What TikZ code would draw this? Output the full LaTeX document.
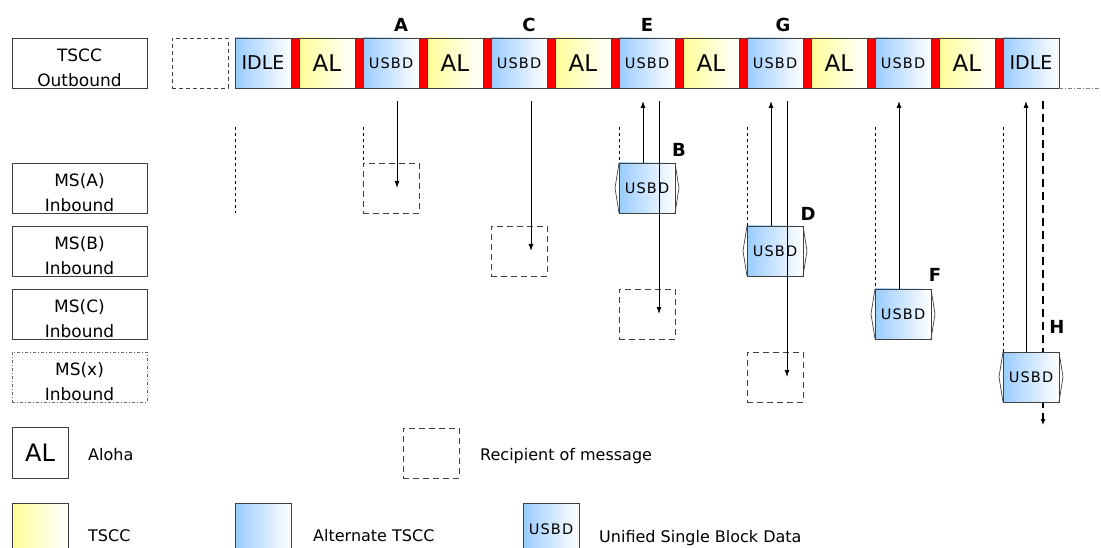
\documentclass[tikz,border=0pt]{standalone}
\usepackage{fontspec}
\setmainfont{DejaVu Sans}
\newfontfamily\spacedfont[LetterSpace=8]{DejaVu Sans}
\usetikzlibrary{arrows.meta}
\definecolor{altblue}{RGB}{153,204,255}
\definecolor{tsccyel}{RGB}{255,255,153}
\definecolor{edge}{RGB}{64,64,64}
\definecolor{sepred}{RGB}{255,0,0}
\begin{document}
\begin{tikzpicture}[x=1pt,y=-1pt,
  fs/.style={font=\fontsize{#1}{#1}\selectfont},
  us/.style={font=\spacedfont\fontsize{14.5}{14.5}\selectfont},
  slot/.style={draw=edge, line width=0.8pt, minimum width=56pt, minimum height=50pt,
    inner sep=0pt, outer sep=0pt, anchor=north west},
  bslot/.style={slot, left color=altblue, right color=white},
  yslot/.style={slot, left color=tsccyel, right color=white},
  sepbar/.style={draw=edge, line width=0.6pt, fill=sepred, minimum width=8pt,
    minimum height=50pt, inner sep=0pt, outer sep=0pt, anchor=north west},
  lbox/.style={draw=edge, line width=0.8pt, minimum width=135pt, minimum height=50pt,
    inner sep=0pt, outer sep=0pt, anchor=north west},
  boxtxt/.style={align=center, font=\fontsize{17}{25}\selectfont, yshift=-4.5pt, inner sep=0pt},
  recbox/.style={draw=edge, line width=0.9pt, dash pattern=on 6pt off 4pt,
    minimum width=56pt, minimum height=50pt, inner sep=0pt, outer sep=0pt, anchor=north west},
  vguide/.style={black, line width=0.6pt, dash pattern=on 3pt off 3pt},
  chev/.style={draw=edge, line width=0.7pt},
  arr/.style={-{Latex[length=7pt,width=5pt]}, line width=0.9pt, black},
  lab/.style={font=\fontsize{18}{18}\selectfont\bfseries, inner sep=0pt},
  legtxt/.style={font=\fontsize{16}{16}\selectfont, inner sep=0pt, anchor=base west}
]
\useasboundingbox (0,0) rectangle (1101,548);

% ---------- outbound row ----------
\node[lbox] (tscc) at (12,38) {};
\node[boxtxt] (tsccT) at (tscc.center) {TSCC\\Outbound};
\node[slot, dash pattern=on 4pt off 3pt] (pre) at (172,38) {};

\node[bslot, fs=19] (s0) at (235,38) {IDLE};
\node[yslot, fs=23] (s1) at (299,38) {AL};
\node[bslot, us] (s2) at (363,38) {USBD};
\node[yslot, fs=23] (s3) at (427,38) {AL};
\node[bslot, us] (s4) at (491,38) {USBD};
\node[yslot, fs=23] (s5) at (555,38) {AL};
\node[bslot, us] (s6) at (619,38) {USBD};
\node[yslot, fs=23] (s7) at (683,38) {AL};
\node[bslot, us] (s8) at (747,38) {USBD};
\node[yslot, fs=23] (s9) at (811,38) {AL};
\node[bslot, us] (s10) at (875,38) {USBD};
\node[yslot, fs=23] (s11) at (939,38) {AL};
\node[bslot, fs=19] (s12) at (1003,38) {IDLE};
\foreach \k in {0,...,11} \node[sepbar] (r\k) at ({291+64*\k},38) {};

\coordinate (tailend) at (1101,88);
\draw[gray, line width=0.7pt, dash pattern=on 4pt off 2pt on 1pt off 2pt] (s12.south east) -- (tailend);

\node[lab] (lA) at (401,25) {A};
\node[lab] (lC) at (529,25) {C};
\node[lab] (lE) at (647,25) {E};
\node[lab] (lG) at (783,25) {G};

% ---------- inbound rows ----------
\node[lbox] (msa) at (12,163) {};
\node[boxtxt] (msaT) at (msa.center) {MS(A)\\Inbound};
\node[lbox] (msb) at (12,226) {};
\node[boxtxt] (msbT) at (msb.center) {MS(B)\\Inbound};
\node[lbox] (msc) at (12,289) {};
\node[boxtxt] (mscT) at (msc.center) {MS(C)\\Inbound};
\node[lbox, draw=edge!80, line width=0.6pt, dash pattern=on 3pt off 2pt on 1pt off 2pt] (msx) at (12,352) {};
\node[boxtxt] (msxT) at (msx.center) {MS(x)\\Inbound};

% guides
\coordinate (g0t) at (235,127); \coordinate (g0b) at (235,213);
\draw[vguide] (g0t) -- (g0b);

% recipient boxes
\node[recbox] (recA) at (363,163) {};
\node[recbox] (recC) at (491,226) {};
\node[recbox] (recE) at (619,289) {};
\node[recbox] (recG) at (747,352) {};

% H dashed (behind box H)
\coordinate (Hend) at (1043,425);
\draw[-{Latex[length=6pt,width=5pt]}, line width=1.1pt, dash pattern=on 8pt off 5pt]
  ([xshift=12pt,yshift=-13pt]s12.south) -- (Hend);

% USBD boxes in inbound rows
\node[bslot, us] (B) at (619,163) {USBD};
\node[bslot, us] (D) at (747,226) {USBD};
\node[bslot, us] (F) at (875,289) {USBD};
\node[bslot, us] (H) at (1003,352) {USBD};
\foreach \b in {B,D,F,H}{
  \draw[chev] (\b.north west) -- ++(-4,25) -- (\b.south west);
  \draw[chev] (\b.north east) -- ++(4,25) -- (\b.south east);
}
\node[lab] (lB) at (679,150) {B};
\node[lab] (lD) at (808,214) {D};
\node[lab] (lF) at (935,275) {F};
\node[lab] (lH) at (1057,327) {H};

% dashed guides above boxes
\draw[vguide] ([yshift=-39pt]s2.south west) -- (recA.north west);
\draw[vguide] ([yshift=-39pt]s6.south west) -- (B.north west);
\draw[vguide] ([yshift=-39pt]s8.south west) -- (D.north west);
\draw[vguide] ([yshift=-39pt]s10.south west) -- (F.north west);
\draw[vguide] ([yshift=-39pt]s12.south west) -- (H.north west);

% message arrows
\draw[arr] ([xshift=6pt,yshift=-13pt]s2.south) -- ([xshift=6pt]recA.center);
\draw[arr] ([xshift=12pt,yshift=-13pt]s4.south) -- ([xshift=12pt]recC.center);
\draw[arr] ([xshift=-4pt]B.north) -- ([xshift=-4pt,yshift=-13pt]s6.south);
\draw[arr] ([xshift=12pt,yshift=-13pt]s6.south) -- ([xshift=12pt]recE.center);
\draw[arr] ([xshift=-4pt]D.north) -- ([xshift=-4pt,yshift=-13pt]s8.south);
\draw[arr] ([xshift=12pt,yshift=-13pt]s8.south) -- ([xshift=12pt]recG.center);
\draw[arr] ([xshift=-4pt]F.north) -- ([xshift=-4pt,yshift=-13pt]s10.south);
\draw[arr] ([xshift=-5pt]H.north) -- ([xshift=-5pt,yshift=-13pt]s12.south);

% ---------- legend ----------
\node[slot, minimum height=51pt, fs=24] (legAL) at (12,427) {AL};
\node[legtxt] (legALt) at (88,460) {Aloha};
\node[recbox] (legRec) at (403,428) {};
\node[legtxt] (legRect) at (480,460) {Recipient of message};
\node[yslot, minimum height=56pt] (legY) at (12,503) {};
\node[legtxt] (legYt) at (88,541) {TSCC};
\node[bslot, minimum height=56pt] (legB) at (235,503) {};
\node[legtxt] (legBt) at (313,541) {Alternate TSCC};
\node[bslot, minimum height=52pt, us] (legU) at (523,503) {USBD};
\node[legtxt] (legUt) at (599,542) {Unified Single Block Data};
\end{tikzpicture}
\end{document}
